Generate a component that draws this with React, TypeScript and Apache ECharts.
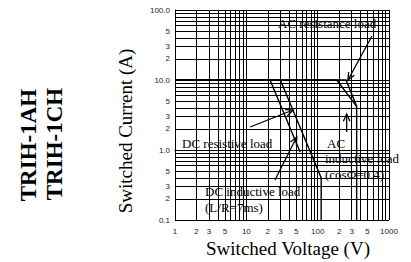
import React, { useEffect, useRef } from 'react';
import * as echarts from 'echarts';

// Tick labels
const xTickValues = [1, 2, 3, 5, 10, 20, 30, 50, 100, 200, 300, 500, 1000];
const xTickLabels = ['1', '2', '3', '5', '10', '2', '3', '5', '100', '2', '3', '5', '1000'];
const yTickValues = [0.1, 0.2, 0.3, 0.5, 1, 2, 3, 5, 10, 20, 30, 50, 100];
const yTickLabels = ['0.1', '2', '3', '5', '1.0', '2', '3', '5', '10.0', '2', '3', '5', '100.0'];
const gridMantissas = [1, 2, 3, 4, 5, 6, 7, 8, 9];
const xDecades = [1, 10, 100];
const yDecades = [0.1, 1, 10];
const xMin = 1;
const xMax = 1000;
const yMin = 0.1;
const yMax = 100;

// Load limit curves (V, A)
const acResistiveVoltage = [1, 250, 352, 352];
const acResistiveCurrent = [10, 10, 4.2, 0.1];
const acInductiveVoltage = [1, 185, 352];
const acInductiveCurrent = [10, 10, 4.2];
const dcResistiveVoltage = [1, 30, 112, 112];
const dcResistiveCurrent = [10, 10, 0.4, 0.1];
const dcInductiveVoltage = [1, 21.5, 57];
const dcInductiveCurrent = [10, 10, 0.93];

// Annotation arrows: [fromV, fromA, toV, toA]
const arrowAcResistance = [578, 42.5, 266, 10];
const arrowDcResistive = [11.3, 2.13, 45.1, 3.73];
const arrowDcInductive = [25.2, 0.373, 50.9, 1.53];
const arrowAcInductive = [255, 1.81, 255, 3.27];

const lg = (v: number) => Math.log10(v);
const toPts = (xs: number[], ys: number[]) => xs.map((x, i) => [lg(x), lg(ys[i])]);
const gridVals = (decades: number[], max: number) => {
  const out: number[] = [];
  decades.forEach((d) => gridMantissas.forEach((m) => out.push(lg(m * d))));
  out.push(lg(max));
  return out;
};
const labelFor = (vals: number[], labels: string[]) => (v: number) => {
  const i = vals.findIndex((t) => Math.abs(lg(t) - v) < 1e-6);
  return i >= 0 ? labels[i] : '';
};

const SERIF = '"Liberation Serif", "Times New Roman", serif';
const SANS = '"Liberation Sans", Arial, sans-serif';

export default function App() {
  const ref = useRef<HTMLDivElement>(null);
  useEffect(() => {
    if (!ref.current) return;
    const chart = echarts.init(ref.current, undefined, { renderer: 'svg' });
    const curveStyle = { color: '#000', width: 1.4 };
    const curve = (name: string, xs: number[], ys: number[]) => ({
      name,
      type: 'line',
      data: toPts(xs, ys),
      showSymbol: false,
      symbol: 'none',
      lineStyle: curveStyle,
      itemStyle: { color: '#000' },
      z: 5,
    });
    const arrows = [arrowAcResistance, arrowDcResistive, arrowDcInductive, arrowAcInductive].map((a) => [
      lg(a[0]), lg(a[1]), lg(a[2]), lg(a[3]),
    ]);
    const text = (t: string, x: number, y: number, size = 13) => ({
      type: 'text',
      x,
      y,
      style: { text: t, fill: '#000', font: `${size}px ${SERIF}`, textVerticalAlign: 'middle', textAlign: 'left' },
      z: 10,
    });
    const rotText = (t: string, x: number, y: number, font: string) => ({
      type: 'text',
      x,
      y,
      rotation: Math.PI / 2,
      style: { text: t, fill: '#000', font, textAlign: 'center', textVerticalAlign: 'middle' },
      z: 10,
    });
    chart.setOption({
      animation: false,
      grid: { left: 175, right: 22, top: 10, bottom: 42, containLabel: false },
      xAxis: {
        type: 'value',
        min: lg(xMin),
        max: lg(xMax),
        axisLine: { show: true, lineStyle: { color: '#000', width: 1 } },
        axisTick: { show: false, customValues: gridVals(xDecades, xMax) },
        splitLine: { show: true, lineStyle: { color: '#000', width: 1 } },
        axisLabel: {
          customValues: xTickValues.map(lg),
          formatter: labelFor(xTickValues, xTickLabels),
          fontFamily: SANS,
          fontSize: 8,
          color: '#222',
          margin: 7,
        },
      },
      yAxis: {
        type: 'value',
        min: lg(yMin),
        max: lg(yMax),
        axisLine: { show: true, lineStyle: { color: '#000', width: 1 } },
        axisTick: { show: false, customValues: gridVals(yDecades, yMax) },
        splitLine: { show: true, lineStyle: { color: '#000', width: 1 } },
        axisLabel: {
          customValues: yTickValues.map(lg),
          formatter: labelFor(yTickValues, yTickLabels),
          fontFamily: SANS,
          fontSize: 8,
          color: '#222',
          margin: 5,
        },
      },
      series: [
        curve('AC resistance load', acResistiveVoltage, acResistiveCurrent),
        curve('AC inductive load', acInductiveVoltage, acInductiveCurrent),
        curve('DC resistive load', dcResistiveVoltage, dcResistiveCurrent),
        curve('DC inductive load', dcInductiveVoltage, dcInductiveCurrent),
        {
          name: 'arrows',
          type: 'custom',
          clip: false,
          z: 6,
          encode: { x: [0, 2], y: [1, 3] },
          data: arrows,
          renderItem: (_params: any, api: any) => {
            const p1 = api.coord([api.value(0), api.value(1)]);
            const p2 = api.coord([api.value(2), api.value(3)]);
            const ang = Math.atan2(p2[1] - p1[1], p2[0] - p1[0]);
            const L = 8;
            const a = 0.42;
            const h1 = [p2[0] - L * Math.cos(ang - a), p2[1] - L * Math.sin(ang - a)];
            const h2 = [p2[0] - L * Math.cos(ang + a), p2[1] - L * Math.sin(ang + a)];
            return {
              type: 'group',
              children: [
                { type: 'line', shape: { x1: p1[0], y1: p1[1], x2: p2[0], y2: p2[1] }, style: { stroke: '#000', lineWidth: 1.3 } },
                { type: 'polyline', shape: { points: [h1, p2, h2] }, style: { stroke: '#000', fill: 'none', lineWidth: 1.3 } },
              ],
            };
          },
        },
      ],
      graphic: [
        text('AC resistance load', 278, 23),
        text('DC resistive load', 182, 143),
        text('AC', 327, 143),
        text('inductive load', 325, 158),
        text('(cosΦ=0.4)', 325, 174),
        text('DC inductive load', 205, 191),
        text('(L/R=7ms)', 205, 207),
        {
          type: 'text',
          x: 288,
          y: 248,
          style: { text: 'Switched Voltage (V)', fill: '#000', font: `19px ${SERIF}`, textAlign: 'center', textVerticalAlign: 'middle' },
        },
        rotText('Switched Current (A)', 125, 131, `19px ${SERIF}`),
        rotText('TRIH-1AH', 28, 145, `bold 23px ${SERIF}`),
        rotText('TRIH-1CH', 54, 144, `bold 23px ${SERIF}`),
      ],
    });
    return () => chart.dispose();
  }, []);
  return <div ref={ref} style={{ position: 'fixed', left: 0, top: 0, width: 411, height: 262, background: '#fff' }} />;
}
